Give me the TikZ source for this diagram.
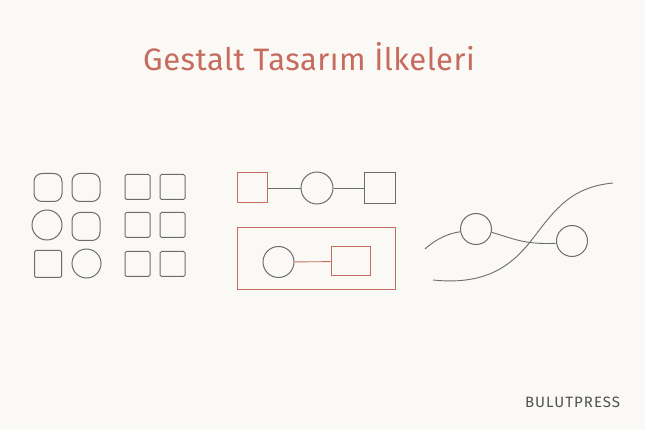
\documentclass[tikz,border=0pt]{standalone}
\usepackage{fontspec}
\setmainfont{Fira Sans}
\usepackage{tikz}
\definecolor{paper}{RGB}{250,249,245}
\definecolor{pencil}{RGB}{108,108,108}
\definecolor{rust}{RGB}{198,108,94}

\begin{document}
\begin{tikzpicture}[x=1pt,y=-1pt,line width=1pt]
            \tikzstyle{box}=[rectangle,draw=pencil,minimum size=26pt,inner sep=0pt,rounded corners=1.5pt]
            \tikzstyle{soft}=[box,minimum size=28pt,rounded corners=8pt]
            \tikzstyle{ring}=[circle,draw=pencil,minimum size=30pt,inner sep=0pt]
            \tikzstyle{link}=[draw=pencil,line width=0.9pt]
                    \fill[paper] (0,0) rectangle (645,430);
                    \useasboundingbox (0,0) rectangle (645,430);

                    \node[text=rust,font=\fontsize{31}{36}\selectfont\addfontfeature{LetterSpace=1.5}] (title) at (309,57){Gestalt Tasarım İlkeleri};

                    % similarity grid
                    \node[soft] (S-1) at (48,187.5){};
                    \node[soft] (S-2) at (86,187.5){};
                    \node[ring] (S-3) at (47,225){};
                    \node[soft] (S-4) at (86,226.5){};
                    \node[box,minimum size=27pt] (S-5) at (48,264){};
                    \node[ring,minimum size=29pt] (S-6) at (86.5,263.5){};

                    % proximity grid
                    \foreach \row/\y in {1/187, 2/225, 3/264}
                        \foreach \col/\x in {1/137.5, 2/172.5}
                            \node[box,minimum size=25pt] (P-\row-\col) at (\x,\y){};

                    % connectedness and common region
                    \node[box,draw=rust,minimum size=30pt,rounded corners=0pt] (C-0) at (252,188){};
                    \node[ring,minimum size=32pt] (C-1) at (317,188){};
                    \node[box,minimum size=31pt,rounded corners=0pt] (C-2) at (379.5,188){};
                    \node[box,draw=rust,minimum width=158pt,minimum height=62pt,rounded corners=0pt] (R-0) at (316,259){};
                    \node[ring,minimum size=31pt] (R-1) at (278.5,262){};
                    \node[box,draw=rust,minimum width=39pt,minimum height=29pt,rounded corners=0pt] (R-2) at (350.5,261.5){};
                \foreach \from/\to in {0/1, 1/2}
                    \draw[link] (C-\from) -- (C-\to);
                    \draw[link,draw=rust] (R-1) -- (R-2);

                    % continuity
                    \node[ring,minimum size=31pt] (K-1) at (476,229){};
                    \node[ring,minimum size=31pt] (K-2) at (572,241){};
                    \coordinate (K-a) at (425,249);
                    \coordinate (K-b) at (433,280);
                    \coordinate (K-c) at (613,183);
                    \draw[link] (K-a) .. controls (437,238) and (450,233) .. (K-1.190);
                    \draw[link] (K-1.-12) .. controls (512,238) and (524,245) .. (K-2.188);
                    \draw[link] (K-b) .. controls (490,286) and (515,262) .. (534,237) .. controls (556,208) and (572,187) .. (K-c);

                    \node[text=pencil!75!black,font=\fontsize{15}{17}\selectfont\addfontfeature{LetterSpace=7},anchor=east] (brand) at (624,402){BULUTPRESS};
        \end{tikzpicture}
\end{document}
